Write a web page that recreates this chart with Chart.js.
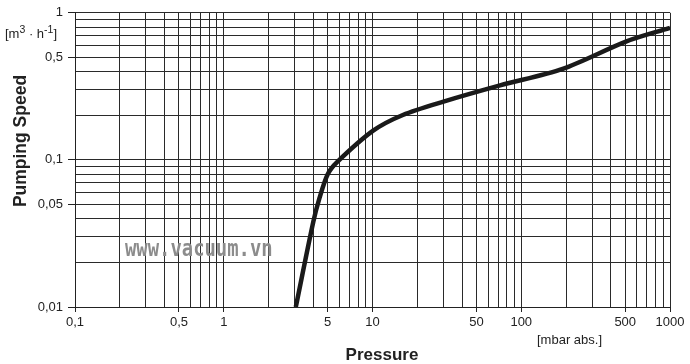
<!DOCTYPE html>
<html>
<head>
<meta charset="utf-8">
<script src="https://cdn.jsdelivr.net/npm/chart.js@4/dist/chart.umd.min.js"></script>
<style>
  html, body { margin: 0; padding: 0; background: #fff; }
  #wrap { position: relative; width: 690px; height: 364px; font-family: "Liberation Sans", Arial, sans-serif; color: #222; }
  #chart { position: absolute; left: 0; top: 0; }
  .lbl { position: absolute; white-space: nowrap; }
  #ytitle { left: 20px; top: 141px; font-weight: bold; font-size: 17.5px; transform: translate(-50%, -50%) rotate(-90deg); }
  #xtitle { left: 382px; top: 355px; font-weight: bold; font-size: 17px; transform: translate(-50%, -50%); }
  #yunit { left: 5px; top: 23px; font-size: 13px; }
  #yunit sup { font-size: 10.5px; vertical-align: 5px; }
  #xunit { left: 537px; top: 332px; font-size: 13px; }
  #mark { left: 125px; top: 235px; font-family: "DejaVu Sans Mono", monospace; font-weight: bold; font-size: 23px; color: #8c8c8c; transform: scaleX(0.82); transform-origin: left top; }
</style>
</head>
<body>
<div id="wrap">
  <canvas id="chart" width="690" height="364"></canvas>
  <div class="lbl" id="mark">www.vacuum.vn</div>
  <div class="lbl" id="yunit">[m<sup>3</sup> · h<sup>-1</sup>]</div>
  <div class="lbl" id="ytitle">Pumping Speed</div>
  <div class="lbl" id="xtitle">Pressure</div>
  <div class="lbl" id="xunit">[mbar abs.]</div>
</div>
<script>
// pressure [mbar abs.] and pumping speed [m3/h]
const pressure = [3.05, 4.0, 4.4, 5.0, 5.8, 10.1, 16, 30, 72, 190, 510, 1000];
const speed = [0.010, 0.038, 0.055, 0.080, 0.097, 0.158, 0.202, 0.249, 0.321, 0.416, 0.64, 0.79];

const xTickValues = [0.1, 0.5, 1, 5, 10, 50, 100, 500, 1000];
const xTickLabels = ['0,1', '0,5', '1', '5', '10', '50', '100', '500', '1000'];
const yTickValues = [0.01, 0.05, 0.1, 0.5, 1];
const yTickLabels = ['0,01', '0,05', '0,1', '0,5', '1'];

// grid at 1..9 of every decade
function decadeGrid(min, max) {
  const out = [];
  for (let e = Math.round(Math.log10(min)); e < Math.round(Math.log10(max)); e++) {
    for (let k = 1; k <= 9; k++) out.push(k * Math.pow(10, e));
  }
  out.push(max);
  return out;
}

function labelFor(values, labels, v) {
  const i = values.findIndex(t => Math.abs(t - v) / t < 1e-6);
  return i < 0 ? '' : labels[i];
}

const tickFont = { family: '"Liberation Sans", Arial, sans-serif', size: 13 };
const lineCol = '#2a2a2a';

new Chart(document.getElementById('chart'), {
  type: 'line',
  data: {
    datasets: [{
      data: pressure.map((p, i) => ({ x: p, y: speed[i] })),
      borderColor: '#1a1a1a',
      borderWidth: 4.5,
      pointRadius: 0,
      tension: 0.3,
      fill: false
    }]
  },
  options: {
    responsive: false,
    animation: false,
    devicePixelRatio: 1,
    layout: { padding: { top: 8, right: 20, left: 0, bottom: 0 } },
    plugins: { legend: { display: false }, tooltip: { enabled: false } },
    scales: {
      x: {
        type: 'logarithmic',
        min: 0.1,
        max: 1000,
        afterBuildTicks: s => { s.ticks = decadeGrid(0.1, 1000).map(v => ({ value: v })); },
        afterFit: s => { s.height = 57; },
        ticks: {
          autoSkip: false, maxRotation: 0, padding: 3,
          color: '#222', font: tickFont,
          callback: v => labelFor(xTickValues, xTickLabels, v)
        },
        grid: {
          color: lineCol, lineWidth: 1, tickLength: 5,
          tickColor: c => labelFor(xTickValues, xTickLabels, c.tick.value) ? '#222' : 'rgba(0,0,0,0)'
        },
        border: { color: '#222', width: 1 }
      },
      y: {
        type: 'logarithmic',
        min: 0.01,
        max: 1,
        afterBuildTicks: s => { s.ticks = decadeGrid(0.01, 1).map(v => ({ value: v })); },
        afterFit: s => { s.width = 75; },
        ticks: {
          autoSkip: false, padding: 5,
          color: '#222', font: tickFont,
          callback: v => labelFor(yTickValues, yTickLabels, v)
        },
        grid: {
          color: lineCol, lineWidth: 1, tickLength: 7,
          tickColor: c => labelFor(yTickValues, yTickLabels, c.tick.value) ? '#222' : 'rgba(0,0,0,0)'
        },
        border: { color: '#222', width: 1 }
      }
    }
  }
});
</script>
</body>
</html>
